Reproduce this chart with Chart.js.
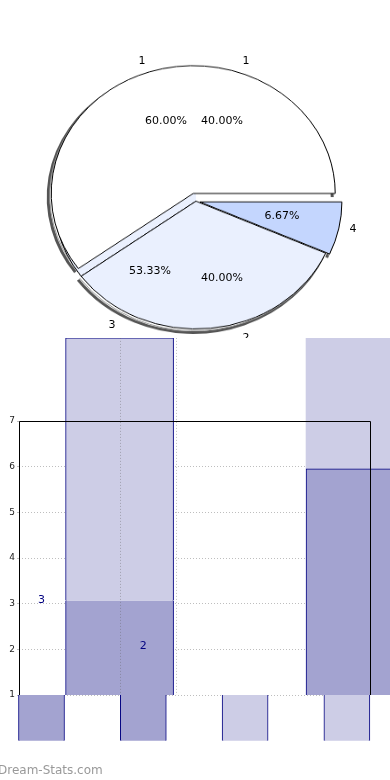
<!DOCTYPE html>
<html><head><meta charset="utf-8">
<script src="https://cdn.jsdelivr.net/npm/chart.js@4"></script>
<style>
html,body{margin:0;padding:0;background:#fff;width:390px;height:780px;overflow:hidden;position:relative;font-family:"DejaVu Sans",sans-serif;}
#pieWrap{position:absolute;left:0;top:0;width:390px;height:447px;transform:scaleY(0.9);transform-origin:0 0;}
#pieLabels{position:absolute;left:0;top:0;width:390px;height:400px;}
.lbl{position:absolute;font-size:11px;color:#000;white-space:nowrap;line-height:1;transform:translate(-50%,-50%);}
#barWrap{position:absolute;left:0;top:338px;width:390px;height:442px;background:#fff;}
#wm{position:absolute;left:-2px;top:763px;font-size:12px;color:#999;font-family:"DejaVu Sans",sans-serif;}
</style></head><body>
<div id="pieWrap"><canvas id="pie" width="390" height="447"></canvas></div>
<div id="pieLabels"></div>
<div id="barWrap"><canvas id="bar" width="390" height="442"></canvas></div>
<div id="wm">Dream-Stats.com</div>
<script>
// ---------- data ----------
const pieCategories = ['4', '2', '1'];
const pieValues = [6.67, 33.33, 60.00];
const pieTexts = ['1', '1', '60.00%', '40.00%', '6.67%', '4', '53.33%', '40.00%', '3', '2'];

const yTicks = [1, 2, 3, 4, 5, 6, 7];
const lowerX = [0, 1, 2, 3];
const lowerValues = [1, 1, 1, 1];
const upperX = [0.767, 3.129];
const upperDarkValues = [3.07, 5.95];
const upperLightValues = [8.82, 8.82];
const barTextLabels = ['3', '2'];
const barTextX = [0, 1];
const barTextY = [3.08, 2.08];
const vGridX = [0.771, 1.321];

// ---------- styles ----------
const pieColors = ['#c4d6fe', '#eaf0fe', '#ffffff'];
const pieExplode = [4, 0, 9];
const pieTextPos = [[142,60],[246,60],[166,120],[222,120],[282,215],[353,228],[150,270],[222,277],[112,324],[246,337]];
const DARK = '#a3a3d0', LIGHT = '#cdcde6', NAVY = '#000080';
const GRID = 'rgba(100,100,100,0.42)';

// pie text labels
const pl = document.getElementById('pieLabels');
pieTexts.forEach((t, i) => {
  const d = document.createElement('div');
  d.className = 'lbl'; d.textContent = t;
  d.style.left = pieTextPos[i][0] + 'px'; d.style.top = pieTextPos[i][1] + 'px';
  pl.appendChild(d);
});

const explodePlugin = {
  id: 'explode',
  afterDatasetUpdate(chart, args) {
    const meta = chart.getDatasetMeta(args.index);
    meta.data.forEach((el, i) => {
      const mid = (el.startAngle + el.endAngle) / 2;
      const d = pieExplode[i] || 0;
      el.$ox = el.x; el.$oy = el.y;
      el.x += Math.cos(mid) * d;
      el.y += Math.sin(mid) * d;
    });
  },
  beforeDatasetsDraw(chart) {
    const ctx = chart.ctx;
    const meta = chart.getDatasetMeta(0);
    ctx.save();
    meta.data.forEach(el => {
      ctx.beginPath();
      ctx.arc(el.x - 3, el.y + 4, el.outerRadius, el.startAngle, el.endAngle);
      ctx.lineWidth = 3;
      ctx.strokeStyle = '#555';
      ctx.stroke();
      ctx.beginPath();
      ctx.arc(el.x - 1.5, el.y + 2, el.outerRadius, el.startAngle, el.endAngle);
      ctx.lineWidth = 1;
      ctx.strokeStyle = '#999';
      ctx.stroke();
    });
    // 3D side of the exploded largest slice
    const big = meta.data[meta.data.length - 1];
    const endSide = big.startAngle + (big.endAngle - big.startAngle) * 0.58;
    ctx.beginPath();
    ctx.moveTo(big.$ox, big.$oy);
    ctx.arc(big.$ox, big.$oy, big.outerRadius, big.startAngle, endSide);
    ctx.closePath();
    ctx.fillStyle = pieColors[1];
    ctx.fill();
    ctx.lineWidth = 1; ctx.strokeStyle = '#000';
    ctx.beginPath();
    ctx.moveTo(big.$ox, big.$oy);
    ctx.arc(big.$ox, big.$oy, big.outerRadius, big.startAngle, endSide);
    ctx.stroke();
    ctx.restore();
  }
};

new Chart(document.getElementById('pie'), {
  type: 'pie',
  data: { labels: pieCategories, datasets: [{
    data: pieValues, backgroundColor: pieColors, borderColor: '#000', borderWidth: 1, radius: 142
  }]},
  options: {
    responsive: false, animation: false, rotation: 90,
    layout: { padding: { left: 2 } },
    plugins: { legend: { display: false }, tooltip: { enabled: false } }
  },
  plugins: [explodePlugin]
});

// ---------- bar chart ----------
const framePlugin = {
  id: 'frame',
  afterDraw(chart) {
    const ctx = chart.ctx, a = chart.chartArea;
    const xs = chart.scales.x, ys = chart.scales.y;
    ctx.save();
    ctx.strokeStyle = GRID; ctx.lineWidth = 1; ctx.setLineDash([1, 2]);
    vGridX.forEach(v => {
      const px = Math.round(xs.getPixelForValue(v)) + 0.5;
      ctx.beginPath();
      ctx.moveTo(px, ys.getPixelForValue(upperLightValues[0]));
      ctx.lineTo(px, ys.getPixelForValue(1));
      ctx.stroke();
    });
    ctx.setLineDash([]);
    ctx.strokeStyle = '#000'; ctx.lineWidth = 1;
    ctx.beginPath();
    ctx.moveTo(Math.round(a.left) + 0.5, Math.round(a.bottom));
    ctx.lineTo(Math.round(a.left) + 0.5, Math.round(a.top) + 0.5);
    ctx.lineTo(Math.round(a.right) + 0.5, Math.round(a.top) + 0.5);
    ctx.lineTo(Math.round(a.right) + 0.5, Math.round(a.bottom));
    ctx.stroke();
    ctx.fillStyle = NAVY; ctx.font = '11px "DejaVu Sans"';
    ctx.textAlign = 'center'; ctx.textBaseline = 'middle';
    barTextLabels.forEach((t, i) => {
      ctx.fillText(t, xs.getPixelForValue(barTextX[i]), ys.getPixelForValue(barTextY[i]));
    });
    ctx.restore();
  }
};

new Chart(document.getElementById('bar'), {
  type: 'bar',
  data: { datasets: [
    { label: 'upperDark',
      data: upperX.map((x, i) => ({ x: x, y: [1, upperDarkValues[i]] })),
      backgroundColor: DARK, borderColor: NAVY, borderSkipped: false,
      borderWidth: c => c.dataIndex === 0 ? { left: 1, right: 1, top: 0, bottom: 0 } : { left: 1, right: 0, top: 1, bottom: 0 },
      barThickness: 108, grouped: false, clip: false },
    { label: 'upperLight',
      data: upperX.map((x, i) => ({ x: x, y: [upperDarkValues[i], upperLightValues[i]] })),
      backgroundColor: LIGHT, borderColor: NAVY, borderSkipped: false,
      borderWidth: c => c.dataIndex === 0 ? { left: 1, right: 1, top: 1, bottom: 0 } : 0,
      barThickness: 108, grouped: false, clip: false },
    { label: 'lower',
      data: lowerX.map((x, i) => ({ x: x, y: [0, lowerValues[i]] })),
      backgroundColor: [DARK, DARK, LIGHT, LIGHT], borderColor: NAVY, borderSkipped: false,
      borderWidth: { left: 1, right: 1, top: 0, bottom: 0 },
      barThickness: 46, grouped: false, clip: false }
  ]},
  options: {
    responsive: false, animation: false,
    layout: { padding: { top: 83, bottom: 85, right: 20, left: 0 } },
    plugins: { legend: { display: false }, tooltip: { enabled: false } },
    scales: {
      x: { type: 'linear', min: -0.221, max: 3.227, offset: false, display: false },
      y: {
        min: 1, max: 7, z: 1,
        afterFit: s => { s.width = 19; },
        afterBuildTicks: s => { s.ticks = yTicks.map(v => ({ value: v })); },
        ticks: { color: '#222', font: { family: 'DejaVu Sans', size: 9 }, padding: 2 },
        grid: { color: GRID, tickLength: 2, lineWidth: 1 },
        border: { display: false, dash: [1, 2] }
      }
    }
  },
  plugins: [framePlugin]
});
</script>
</body></html>
